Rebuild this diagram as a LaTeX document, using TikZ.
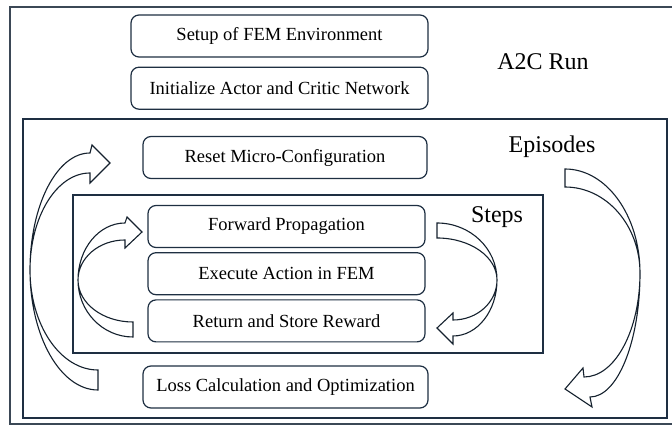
\documentclass[tikz,border=0pt]{standalone}
\usepackage{fontspec}
\setmainfont{Liberation Serif}
\usetikzlibrary{positioning}

\definecolor{navy}{HTML}{1E2F42}
\definecolor{framegray}{HTML}{3B4856}

\tikzset{
    box/.style={draw=navy, line width=1.2pt, rounded corners=8pt, fill=white,
        minimum width=280pt, minimum height=42pt, font=\fontsize{18.5}{21}\selectfont},
    wide/.style={minimum width=297pt},
    heading/.style={font=\fontsize{24}{28}\selectfont},
    panel/.style={draw=navy, line width=1.4pt},
    bigarrow/.style={draw=navy!70!black, line width=1.1pt, fill=white}
}

\begin{document}
\begin{tikzpicture}[x=1pt, y=1pt]
    \useasboundingbox (0,0) rectangle (672,425);
    % frames
    \draw[framegray, line width=2pt] (10,1) rectangle (674,418);
    \draw[panel] (23,7) rectangle (667,306);
    \draw[panel] (73,72) rectangle (543,230);

    \node[box, wide] (setup) at (279.5,389) {Setup of FEM Environment};
    \node[box, wide, below=9pt of setup] (init) {Initialize Actor and Critic Network};
    \node[box, minimum width=284pt] (reset) at (285,267.5) {Reset Micro-Configuration};
    \node[box, minimum width=277pt] (fwd) at (286.5,198.5) {Forward Propagation};
    \node[box, minimum width=277pt, below=4pt of fwd] (exec) {Execute Action in FEM};
    \node[box, minimum width=277pt, below=4pt of exec] (ret) {Return and Store Reward};
    \node[box, minimum width=285pt] (loss) at (285.5,38) {Loss Calculation and Optimization};

    \node[heading] (run) at (543,363) {A2C Run};
    \node[heading] (epi) at (552,278) {Episodes};
    \node[heading] (steps) at (497,208) {Steps};

    % curved block arrows
    \draw[bigarrow] (98,35) arc[start angle=-90, end angle=-180, x radius=68, y radius=120]
        arc[start angle=180, end angle=90, x radius=60, y radius=117]
        -- (92,280) -- (110,262) -- (90,242) -- (90,252)
        arc[start angle=90, end angle=180, x radius=60, y radius=97]
        arc[start angle=180, end angle=270, x radius=68, y radius=100] -- cycle;
    \draw[bigarrow] (133,88) arc[start angle=-90, end angle=-180, x radius=55, y radius=57]
        arc[start angle=180, end angle=90, x radius=47, y radius=57]
        -- (127,208) -- (142,193) -- (125,177) -- (125,185)
        arc[start angle=90, end angle=180, x radius=47, y radius=40]
        arc[start angle=180, end angle=270, x radius=55, y radius=42] -- cycle;
    \draw[bigarrow] (437,202) arc[start angle=90, end angle=0, x radius=60, y radius=57]
        arc[start angle=0, end angle=-90, x radius=44, y radius=56]
        -- (453,81) -- (437,97) -- (453,112) -- (453,105)
        arc[start angle=-90, end angle=0, x radius=44, y radius=40]
        arc[start angle=0, end angle=90, x radius=60, y radius=42] -- cycle;
    \draw[bigarrow] (565,256) arc[start angle=90, end angle=0, x radius=75, y radius=104]
        arc[start angle=0, end angle=-90, x radius=50, y radius=124]
        -- (592,18) -- (565,36) -- (583,57) -- (584,48)
        arc[start angle=-90, end angle=0, x radius=56, y radius=104]
        arc[start angle=0, end angle=90, x radius=75, y radius=86] -- cycle;
\end{tikzpicture}
\end{document}
